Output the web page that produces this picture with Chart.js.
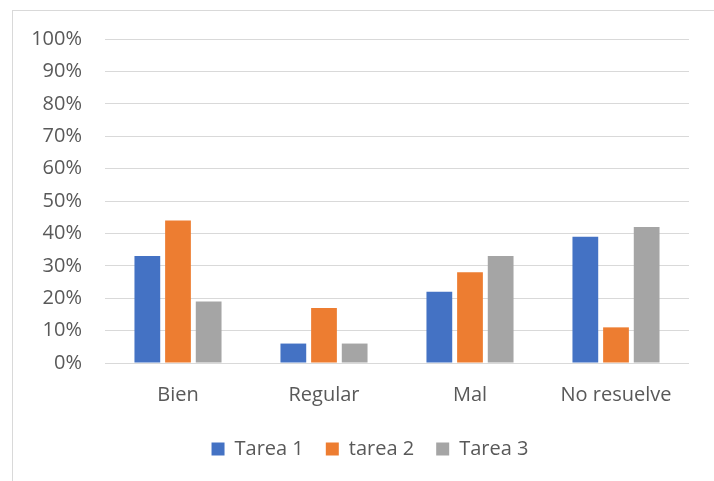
<!DOCTYPE html>
<html>
<head>
<meta charset="utf-8">
<script src="https://cdn.jsdelivr.net/npm/chart.js@4/dist/chart.umd.min.js"></script>
<style>
  html, body { margin: 0; padding: 0; background: #fff; }
  body { width: 714px; height: 481px; overflow: hidden; position: relative; }
  #frame {
    position: absolute; left: 12px; top: 10px; width: 720px; height: 480px;
    border-left: 1px solid #d9d9d9; border-top: 1px solid #d9d9d9;
  }
  #wrap { position: absolute; left: 0; top: 0; width: 714px; height: 481px; }
</style>
</head>
<body>
<div id="frame"></div>
<div id="wrap"><canvas id="chart"></canvas></div>
<script>
// Categories and results per task (percent)
const categories = ['Bien', 'Regular', 'Mal', 'No resuelve'];
const tarea1 = [33, 6, 22, 39];
const tarea2 = [44, 17, 28, 11];
const tarea3 = [19, 6, 33, 42];
const seriesNames = ['Tarea 1', 'tarea 2', 'Tarea 3'];
const seriesColors = ['#4472C4', '#ED7D31', '#A5A5A5'];

const FONT = { family: 'Open Sans', size: 20 };
const TEXT = '#595959';

// Centre the legend under the frame rather than the whole canvas
const legendShift = {
  id: 'legendShift',
  afterLayout(chart) {
    if (chart.legend) chart.legend.left = 51;
  }
};

const chart = new Chart(document.getElementById('chart'), {
  type: 'bar',
  data: {
    labels: categories,
    datasets: [tarea1, tarea2, tarea3].map((vals, i) => ({
      label: seriesNames[i],
      data: vals,
      backgroundColor: seriesColors[i],
      borderWidth: 0,
      categoryPercentage: 0.63,
      barPercentage: 0.84
    }))
  },
  plugins: [legendShift],
  options: {
    responsive: true,
    maintainAspectRatio: false,
    animation: false,
    layout: { padding: { left: 0, right: 25, top: 39, bottom: 12 } },
    plugins: {
      tooltip: { enabled: false },
      legend: {
        position: 'bottom',
        labels: {
          color: TEXT,
          font: FONT,
          boxWidth: 13,
          boxHeight: 13,
          padding: 22
        }
      }
    },
    scales: {
      x: {
        grid: { display: false },
        border: { display: false },
        ticks: { color: TEXT, font: FONT, padding: 12 },
        afterFit: (s) => { s.height = 54; }
      },
      y: {
        min: 0,
        max: 100,
        ticks: {
          stepSize: 10,
          color: TEXT,
          font: FONT,
          padding: 23,
          callback: (v) => v + '%'
        },
        grid: { color: '#d9d9d9', lineWidth: 1, drawTicks: false },
        border: { display: false },
        afterFit: (s) => { s.width = 105; }
      }
    }
  }
});
</script>
</body>
</html>
